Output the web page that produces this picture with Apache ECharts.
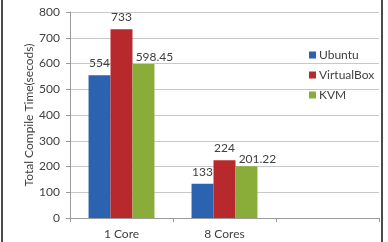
<!DOCTYPE html>
<html>
<head>
<meta charset="utf-8">
<script src="https://cdn.jsdelivr.net/npm/echarts@6/dist/echarts.min.js"></script>
<style>
  html, body { margin: 0; padding: 0; background: #fff; }
  #chart { width: 388px; height: 242px; }
</style>
</head>
<body>
<div id="chart"></div>
<script>
// categories (third slot is empty in the original)
var categories = ['1 Core', '8 Cores', ''];
var ubuntu = [554, 133, null];
var virtualBox = [733, 224, null];
var kvm = [598.45, 201.22, null];
var yTicks = [0, 100, 200, 300, 400, 500, 600, 700, 800];

var chart = echarts.init(document.getElementById('chart'));
var font = 'Lato, "Open Sans", sans-serif';
var textColor = '#404040';

var makeSeries = function (name, data, color, label) {
    return {
        name: name,
        type: 'bar',
        data: data,
        barGap: 0,
        barCategoryGap: '36%',
        itemStyle: { color: color },
        label: Object.assign({
            show: true,
            position: 'top',
            distance: 6,
            color: textColor,
            fontSize: 12,
            fontFamily: font
        }, label || {})
    };
};

chart.setOption({
    animation: false,
    textStyle: { fontFamily: font },
    grid: { left: 70, right: 9, top: 12, bottom: 24 },
    legend: {
        orient: 'vertical',
        left: 304,
        top: 44,
        itemWidth: 7,
        itemHeight: 7,
        itemGap: 8,
        icon: 'rect',
        textStyle: { color: textColor, fontSize: 12, fontFamily: font, padding: [0, 0, 0, -2] },
        data: ['Ubuntu', 'VirtualBox', 'KVM']
    },
    xAxis: {
        type: 'category',
        data: categories,
        axisLine: { lineStyle: { color: '#9a9a9a' } },
        axisTick: { show: true, length: 4, lineStyle: { color: '#9a9a9a' } },
        axisLabel: { color: textColor, fontSize: 12, margin: 10 }
    },
    yAxis: {
        type: 'value',
        min: yTicks[0],
        max: yTicks[yTicks.length - 1],
        interval: 100,
        name: 'Total Compile Time(secods)',
        nameLocation: 'middle',
        nameGap: 35,
        nameMoveOverlap: false,
        nameTextStyle: { color: textColor, fontSize: 12 },
        axisLine: { show: true, lineStyle: { color: '#9a9a9a' } },
        axisTick: { show: true, length: 4, lineStyle: { color: '#9a9a9a' } },
        axisLabel: { color: textColor, fontSize: 12, margin: 10 },
        splitLine: { lineStyle: { color: '#c8c8c8' } }
    },
    series: [
        makeSeries('Ubuntu', ubuntu, '#2b63b0'),
        makeSeries('VirtualBox', virtualBox, '#b7292d'),
        makeSeries('KVM', kvm, '#8aad3a', { distance: 1, offset: [11, 0] })
    ],
    graphic: [{
        type: 'rect',
        shape: { x: 2, y: -2, width: 380, height: 246 },
        style: { fill: 'none', stroke: '#111', lineWidth: 1.5 },
        silent: true
    }]
});
</script>
</body>
</html>
